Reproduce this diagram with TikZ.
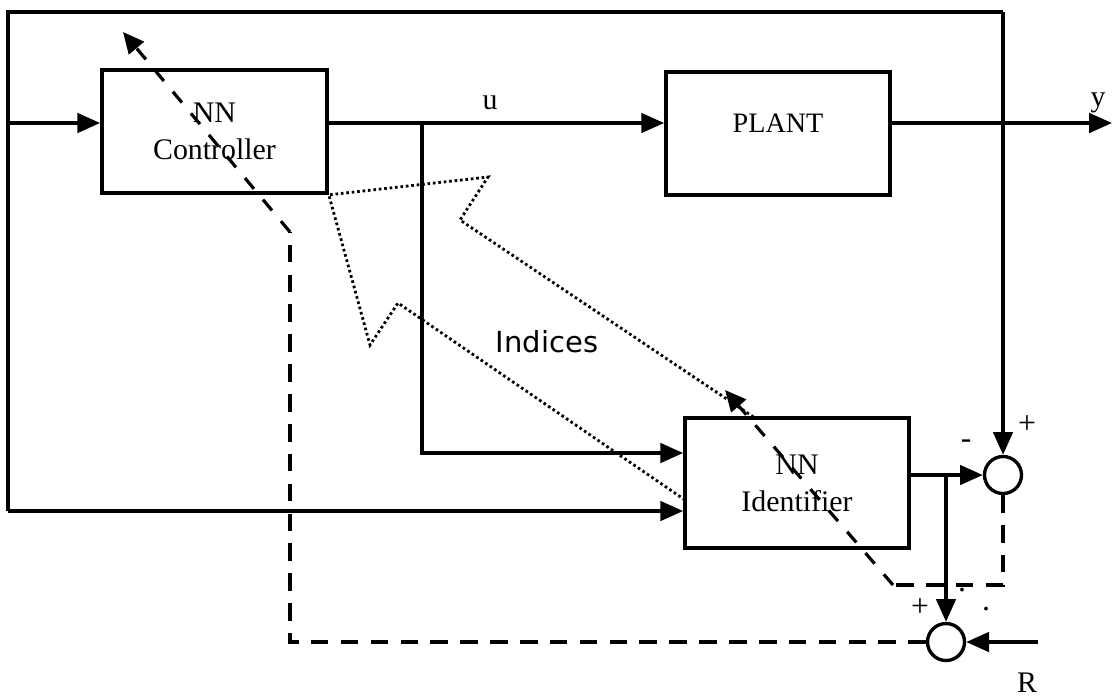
\documentclass[tikz,border=0pt]{standalone}
\usepackage{fontspec}
\setmainfont{Liberation Serif}
\newfontfamily\sansfont{DejaVu Sans}
\usetikzlibrary{arrows.meta}
\begin{document}
\begin{tikzpicture}[x=0.02cm,y=-0.02cm,
  box/.style={draw, line width=2.1pt, inner sep=0pt, align=center,
    font=\fontsize{17}{21}\selectfont},
  sumnode/.style={draw, circle, line width=1.9pt, minimum size=0.74cm, inner sep=0pt},
  wire/.style={line width=2.1pt, -{Triangle[length=13pt,width=11pt]}},
  plainwire/.style={line width=2.1pt},
  dashline/.style={line width=2.1pt, dash pattern=on 10pt off 7pt},
  diagdash/.style={line width=1.8pt, dash pattern=on 8pt off 8pt, -{Triangle[length=12pt,width=11pt]}},
  dotline/.style={line width=1.6pt, dash pattern=on 1.5pt off 1.6pt},
  lbl/.style={font=\fontsize{17}{20}\selectfont, inner sep=0pt},
  sgn/.style={font=\fontsize{18}{20}\selectfont, inner sep=0pt}
]
\useasboundingbox (0,0) rectangle (1114,698);

% blocks
\node[box, minimum width=4.5cm, minimum height=2.46cm] (ctrl) at (214.5,131.5) {NN\\Controller};
\node[box, minimum width=4.48cm, minimum height=2.46cm,
  label={[font=\fontsize{16}{18}\selectfont, yshift=0.2cm]center:PLANT}] (plant) at (778,133.5) {};
\node[box, minimum width=4.48cm, minimum height=2.6cm] (ident) at (797,483) {NN\\Identifier};
\node[sumnode] (s1) at (1003,475) {};
\node[sumnode] (s2) at (946,642) {};

% coordinates
\coordinate (tl) at (8,12);
\coordinate (tr) at (1003,12);
\coordinate (bl) at (8,511);
\coordinate (in) at (8,123);
\coordinate (ut) at (422,123);
\coordinate (ub) at (422,453);
\coordinate (yend) at (1112,123);
\coordinate (ib) at (946,475);
\coordinate (rin) at (1038,642);
\coordinate (d1) at (1003,585);
\coordinate (d2) at (893,585);
\coordinate (d3) at (725,390);
\coordinate (e1) at (290,642);
\coordinate (e2) at (290,232);
\coordinate (e3) at (123,32);
\coordinate (q1) at (685,500);
\coordinate (q2) at (398,303);
\coordinate (q3) at (370,345);
\coordinate (q5) at (488,177);
\coordinate (q6) at (460,220);
\coordinate (q7) at (755,418);

% solid connectors
\draw[plainwire] (bl) -- (tl) -- (tr);
\draw[wire] (tr) -- (s1.north);
\draw[wire] (bl) -- (bl -| ident.west);
\draw[wire] (in) -- (in -| ctrl.west);
\draw[wire] (in -| ctrl.east) -- (in -| plant.west);
\draw[wire] (ut) -- (ub) -- (ub -| ident.west);
\draw[wire] (in -| plant.east) -- (yend);
\draw[wire] (ident.east |- s1.west) -- (s1.west);
\draw[wire] (ib) -- (s2.north);
\draw[wire] (rin) -- (s2.east);

% dashed error paths
\draw[dashline] (s1.south) -- (d1) -- (d2);
\draw[diagdash] (d2) -- (d3);
\draw[dashline] (s2.west) -- (e1) -- (e2);
\draw[diagdash] (e2) -- (e3);

% dotted "indices" arrow outline
\draw[dotline] (q1) -- (q2) -- (q3) -- (ctrl.south east) -- (q5) -- (q6) -- (q7);

% labels
\node[lbl] (ulbl) at (490,103) {u};
\node[lbl] (ylbl) at (1098,103) {y};
\node[lbl] (rlbl) at (1027,683) {R};
\node[font=\sansfont\fontsize{16.5}{19}\selectfont, inner sep=0pt] (indl) at (547,342) {Indices};
\node[sgn] (plus1) at (1027,425) {+};
\node[sgn] (minus1) at (966,444) {-};
\node[sgn] (plus2) at (920,608) {+};
\node[sgn] (dot1) at (962,590) {.};
\node[sgn] (dot2) at (986,609) {.};
\end{tikzpicture}
\end{document}
